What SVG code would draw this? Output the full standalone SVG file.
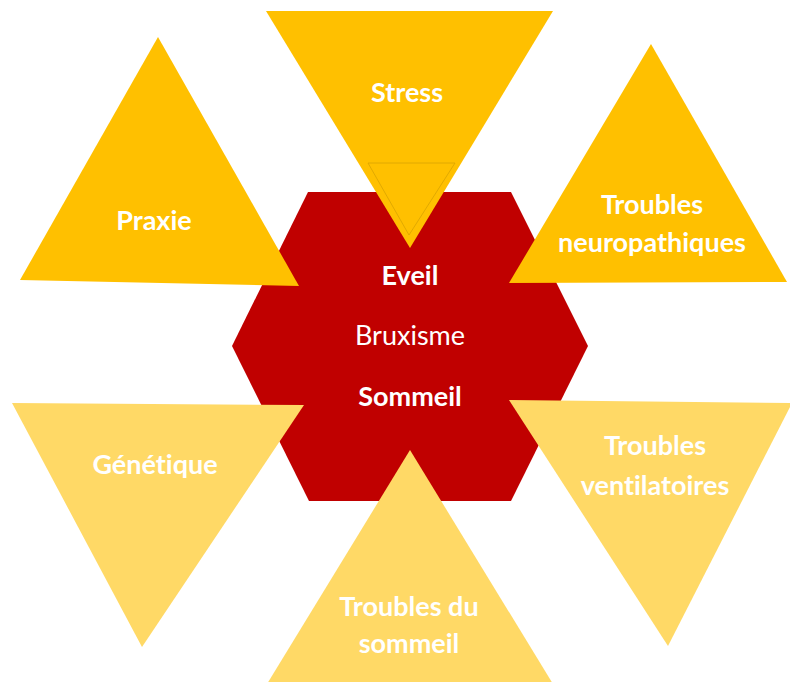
<svg xmlns="http://www.w3.org/2000/svg" width="790" height="682" viewBox="0 0 790 682">
<style>
.dark{fill:#FFC000}
.light{fill:#FFD966}
.lbl{font-family:Lato,"Open Sans","Liberation Sans",sans-serif;font-weight:bold;font-size:27px;fill:#FFFFFF;text-anchor:middle;font-variant-ligatures:none}
.reg{font-weight:normal}
</style>
<rect width="790" height="682" fill="#FFFFFF"/>
<g id="connectors"/>
<g id="hexagon">
<polygon points="308,192 511,192 588,346 511,501 309,501 232,346" fill="#C00000"/>
</g>
<g id="stress">
<polygon class="dark" points="266,11 553,11 410,248"/>
<polygon points="368,163 455,163 409,235" fill="none" stroke="#D9A300" stroke-width="0.8"/>
<text class="lbl" x="407" y="102">Stress</text>
</g>
<g id="praxie">
<polygon class="dark" points="158,37 299,286 20,280"/>
<text class="lbl" x="154" y="230">Praxie</text>
</g>
<g id="neuro">
<polygon class="dark" points="651,44 787,282 509,283"/>
<text class="lbl" x="652" y="214">Troubles</text>
<text class="lbl" x="652" y="252">neuropathiques</text>
</g>
<g id="genetique">
<polygon class="light" points="12,403 304,405 142,647"/>
<text class="lbl" x="155" y="474">Génétique</text>
</g>
<g id="ventilatoires">
<polygon class="light" points="509,400 792,403 668,646"/>
<text class="lbl" x="655" y="455">Troubles</text>
<text class="lbl" x="655" y="495">ventilatoires</text>
</g>
<g id="sommeil">
<polygon class="light" points="410,450 553,684 267,684"/>
<text class="lbl" x="409" y="616">Troubles du</text>
<text class="lbl" x="409" y="653">sommeil</text>
</g>
<g id="center">
<text class="lbl" x="410" y="285">Eveil</text>
<text class="lbl reg" x="410" y="345">Bruxisme</text>
<text class="lbl" x="410" y="406">Sommeil</text>
</g>
</svg>
